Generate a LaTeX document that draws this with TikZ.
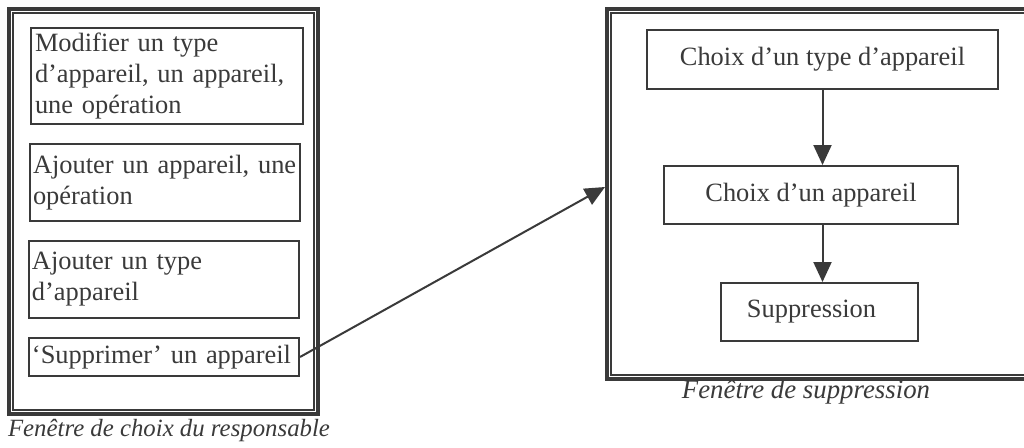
\documentclass[tikz,border=0pt]{standalone}
\usepackage{fontspec}
\setmainfont{Liberation Serif}
\usetikzlibrary{arrows.meta,calc}
\definecolor{ink}{RGB}{58,58,58}
\tikzset{
  box/.style={draw=ink, line width=1pt, rectangle, inner sep=1.5pt, text=ink,
    font=\fontsize{13.2}{15.5}\selectfont},
  lbox/.style={box, align=left, anchor=north west, text width=132pt},
  cbox/.style={box, align=center, anchor=north west},
  frameout/.style={draw=ink, line width=2pt, rectangle, inner sep=0pt, anchor=north west},
  framein/.style={draw=ink, line width=0.7pt},
  arr/.style={draw=ink, line width=1pt, -{Triangle[length=10pt,width=9pt]}},
  captext/.style={text=ink, font=\itshape, inner sep=0pt}
}
\begin{document}
\begin{tikzpicture}[x=0.5pt,y=-0.5pt]
\useasboundingbox (0,0) rectangle (1024,447);
\clip (0,0) rectangle (1024,447);
\fill[white] (0,0) rectangle (1024,447);
% left window
\node[frameout, minimum width=154.5pt, minimum height=202.5pt] (lwin) at (7,7) {};
\draw[framein] ($(lwin.north west)+(6,6)$) rectangle ($(lwin.south east)+(-6,-6)$);
\node[lbox, minimum width=136pt, minimum height=48pt] (m1) at (30,27)
  {Modifier un type\\d’appareil, un appareil,\\une opération};
\node[lbox, minimum width=135pt, minimum height=38.5pt] (m2) at (29,143)
  {Ajouter un appareil, une\\opération};
\node[lbox, minimum width=135pt, minimum height=38.5pt] (m3) at (28,240)
  {Ajouter un type\\d’appareil};
\node[lbox, minimum width=135pt, minimum height=19pt] (m4) at (28,337)
  {‘Supprimer’ un appareil};
\node[captext, font=\fontsize{12.4}{14}\selectfont\itshape] (lcap) at (169,431) {Fenêtre de choix du responsable};
% right window
\node[frameout, minimum width=212.5pt, minimum height=185pt] (rwin) at (605,7) {};
\draw[framein] ($(rwin.north west)+(6,6)$) rectangle ($(rwin.south east)+(-6,-6)$);
\node[cbox, minimum width=175.5pt, minimum height=29.5pt] (c1) at (646,29)
  {Choix d’un type d’appareil};
\node[cbox, minimum width=147pt, minimum height=29pt] (c2) at (663,165)
  {Choix d’un appareil};
\node[cbox, minimum width=98.5pt, minimum height=29pt] (c3) at (720,282)
  {Suppression\hspace*{8pt}};
\node[captext, font=\fontsize{13.4}{15}\selectfont\itshape] (rcap) at (806,392) {Fenêtre de suppression};
% connectors
\draw[arr] (c1.south) -- (c1.south |- c2.north);
\draw[arr] (c1.south |- c2.south) -- (c1.south |- c3.north);
\draw[arr] (m4.east) -- ($(rwin.west)+(0,-7)$);
\end{tikzpicture}
\end{document}
